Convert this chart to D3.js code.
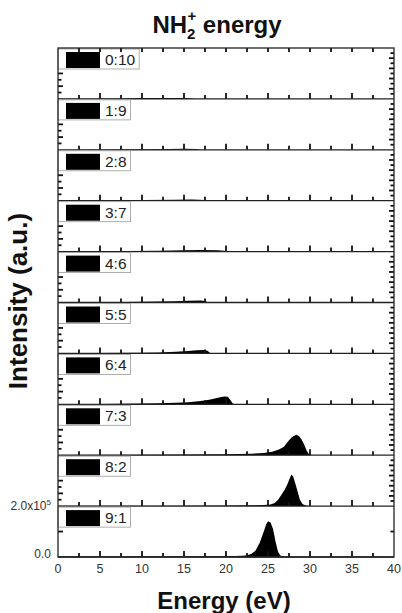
<!DOCTYPE html>
<html>
<head>
<meta charset="utf-8">
<script src="https://cdn.jsdelivr.net/npm/d3@7"></script>
<style>
  body { margin: 0; background: #fff; }
  text { font-family: Arial, "Liberation Sans", sans-serif; }
</style>
</head>
<body>
<svg id="chart" width="402" height="613"></svg>
<script>
// mixing ratios, one panel each, top to bottom
const ratios = ["0:10", "1:9", "2:8", "3:7", "4:6", "5:5", "6:4", "7:3", "8:2", "9:1"];

// energy ticks (eV)
const energyTicks = [0, 5, 10, 15, 20, 25, 30, 35, 40];

// spectra: [energy eV, intensity in 1e3 counts]
const s0_10 = [[0,0.5],[5,1],[8,2],[10,3.5],[13,4],[15,3.5],[15.8,2],[16.2,0],[40,0]];
const s1_9  = [[0,0.5],[5,1],[10,2],[13,3],[15,4],[16.5,3],[17,0],[40,0]];
const s2_8  = [[0,1],[5,1.5],[10,2.5],[14,4],[16,4.5],[17.5,3],[18,0],[40,0]];
const s3_7  = [[0,1],[8,2],[12,3.5],[15,5],[17,6],[19,5],[19.8,3],[20.2,0],[40,0]];
const s4_6  = [[0,1],[8,2],[12,3.5],[14,5],[15.5,7],[17,8],[17.5,6],[17.8,1],[18,0],[40,0]];
const s5_5  = [[0,1],[5,1.5],[10,3],[12,4],[14,6],[15.5,9],[16.5,12],[17.3,13],[17.8,10],[18.1,2],[18.4,0],[40,0]];
const s6_4  = [[0,1],[5,1.5],[10,3],[12,4.5],[14,6],[15.5,8],[17,13],[18,18],[18.8,24],[19.3,28],[19.8,31],[20.2,30],[20.5,18],[20.8,3],[21.1,0],[40,0]];
const s7_3  = [[0,1],[10,2],[15,3],[20,4],[23,6],[24.5,9],[25.5,14],[26.3,22],[26.9,33],[27.4,55],[27.8,70],[28.1,76],[28.4,80],[28.7,74],[29,62],[29.3,42],[29.6,18],[29.9,3],[30.2,0],[40,0]];
const s8_2  = [[0,1],[10,1.5],[20,2],[23,3],[24.5,4],[25.3,6],[25.8,12],[26.2,25],[26.6,45],[27,65],[27.3,85],[27.6,110],[27.8,124],[28,116],[28.2,95],[28.5,60],[28.8,25],[29.1,8],[29.5,2],[30,0],[40,0]];
const s9_1  = [[0,1],[2,1.5],[5,1],[10,1.5],[15,2],[18,2.5],[20,3],[21,4],[22,5],[22.5,7],[23,12],[23.5,25],[24,55],[24.5,100],[24.8,130],[25,140],[25.3,136],[25.6,110],[25.9,60],[26.2,20],[26.5,5],[27,1],[28,0],[40,0]];
const spectra = [s0_10, s1_9, s2_8, s3_7, s4_6, s5_5, s6_4, s7_3, s8_2, s9_1];

// y ticks (1e3 counts)
const leftTicks = [25, 50, 75, 100];
const rightTicks = [20, 40, 60, 80, 100, 120, 140, 160, 180];
const lastPanelTicks = [100];

const svg = d3.select("#chart");
const plotL = 58, plotR = 394, plotT = 48, plotB = 557;
const ink = "#222";

const x = d3.scaleLinear().domain([0, 40]).range([plotL, plotR]);
const band = d3.scaleBand().domain(ratios).range([plotT, plotB]);
const ph = band.bandwidth();

const minorX = d3.range(0, 41, 2.5).slice(1, -1);

function tickLines(sel, data) {
  return sel.append("g")
    .attr("stroke", "#111").attr("stroke-width", 1.8)
    .selectAll("line").data(data).join("line");
}

ratios.forEach((r, i) => {
  const py = band(r);
  const y = d3.scaleLinear().domain([0, 200]).range([py + ph, py]);
  const base = y(0);
  const g = svg.append("g");

  // filled spectrum
  g.append("path")
    .datum(spectra[i])
    .attr("fill", "#000")
    .attr("d", d3.area().x(d => x(d[0])).y0(base).y1(d => y(d[1])));

  // bottom ticks of the panel, pointing up
  tickLines(g, minorX)
    .attr("x1", d => x(d)).attr("x2", d => x(d))
    .attr("y1", base).attr("y2", d => base - (d % 5 === 0 ? 6 : 4));

  // panel separator
  g.append("line").attr("stroke", ink).attr("stroke-width", 1.3)
    .attr("x1", plotL).attr("x2", plotR)
    .attr("y1", base).attr("y2", base);

  // left ticks
  tickLines(g, i === 9 ? lastPanelTicks : leftTicks)
    .attr("x1", plotL).attr("x2", d => plotL + (d % 50 === 0 ? 5 : 3.5))
    .attr("y1", d => y(d)).attr("y2", d => y(d));

  // right ticks
  tickLines(g, i === 9 ? lastPanelTicks : rightTicks)
    .attr("x1", plotR).attr("x2", d => plotR - (d % 40 === 0 ? 5 : 3.5))
    .attr("y1", d => y(d)).attr("y2", d => y(d));

  // legend box
  const lg = g.append("g");
  const box = lg.append("rect")
    .attr("x", plotL).attr("y", py + 1)
    .attr("height", 20)
    .attr("fill", "#fff").attr("stroke", "#999").attr("stroke-width", 0.8);
  lg.append("rect")
    .attr("x", 66).attr("y", py + 4)
    .attr("width", 34).attr("height", 16)
    .attr("fill", "#000");
  const lbl = lg.append("text")
    .attr("x", 105).attr("y", py + 17)
    .attr("font-size", 15.5).attr("fill", ink)
    .text(r);
  const w = lbl.node().getComputedTextLength();
  box.attr("width", 105 + w + 4 - plotL);

  // y labels on the bottom panel
  if (i === 9) {
    g.append("text").attr("x", 51).attr("y", base + 1)
      .attr("text-anchor", "end").attr("font-size", 12).attr("fill", "#333")
      .text("0.0");
    const t = g.append("text").attr("x", 51).attr("y", y(200) + 4)
      .attr("text-anchor", "end").attr("font-size", 12).attr("fill", "#333");
    t.append("tspan").text("2.0x10");
    t.append("tspan").attr("dy", -5).attr("font-size", 8).text("5");
  }
});

// top ticks, pointing down
tickLines(svg, minorX)
  .attr("x1", d => x(d)).attr("x2", d => x(d))
  .attr("y1", plotT).attr("y2", plotT + 4);

// bottom tick labels
svg.append("g").selectAll("text")
  .data(energyTicks)
  .join("text")
  .attr("x", d => x(d))
  .attr("y", 573)
  .attr("text-anchor", "middle")
  .attr("font-size", 12.5)
  .attr("fill", "#333")
  .text(d => d);

// frame
svg.append("rect")
  .attr("x", plotL).attr("y", plotT)
  .attr("width", plotR - plotL).attr("height", plotB - plotT)
  .attr("fill", "none").attr("stroke", ink).attr("stroke-width", 1.3);

// title
const title = svg.append("text")
  .attr("x", 217).attr("y", 33)
  .attr("text-anchor", "middle")
  .attr("font-size", 24).attr("font-weight", "bold").attr("fill", "#111");
title.append("tspan").text("NH");
title.append("tspan").attr("font-size", 15).attr("dy", 6).text("2");
title.append("tspan").attr("font-size", 15).attr("dx", -8).attr("dy", -18).text("+");
title.append("tspan").attr("dy", 12).text(" energy");

// axis titles
svg.append("text")
  .attr("x", 224).attr("y", 609)
  .attr("text-anchor", "middle")
  .attr("font-size", 24).attr("font-weight", "bold").attr("fill", "#111")
  .text("Energy (eV)");

svg.append("text")
  .attr("transform", "translate(27,301) rotate(-90)")
  .attr("text-anchor", "middle")
  .attr("font-size", 26).attr("font-weight", "bold").attr("fill", "#111")
  .text("Intensity (a.u.)");
</script>
</body>
</html>
